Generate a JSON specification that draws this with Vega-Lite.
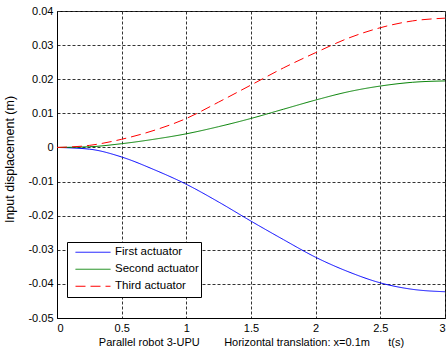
{
  "$schema": "https://vega.github.io/schema/vega-lite/v6.json",
  "width": 388,
  "height": 307,
  "autosize": {"type": "none"},
  "padding": {"left": 57, "top": 11, "right": 1, "bottom": 40},
  "background": "white",
  "config": {
    "locale": {"number": {"decimal": ".", "thousands": ",", "grouping": [3], "currency": ["$", ""], "minus": "-"}},
    "view": {"stroke": "black", "strokeWidth": 1},
    "font": "Liberation Sans",
    "axis": {
      "domainColor": "black",
      "labelColor": "black",
      "labelFont": "Liberation Sans",
      "labelFontSize": 11,
      "titleFont": "Liberation Sans",
      "titleFontWeight": "normal",
      "titleColor": "black",
      "gridColor": "#333333",
      "gridDash": [3, 2],
      "gridOpacity": 1,
      "ticks": false,
      "labelPadding": 4
    }
  },
  "data": {
    "values": [
      {"t": 0, "series": "First actuator", "v": 0},
      {"t": 0.25, "series": "First actuator", "v": -0.0005},
      {"t": 0.5, "series": "First actuator", "v": -0.0028},
      {"t": 0.75, "series": "First actuator", "v": -0.0065},
      {"t": 1, "series": "First actuator", "v": -0.0108},
      {"t": 1.25, "series": "First actuator", "v": -0.016},
      {"t": 1.5, "series": "First actuator", "v": -0.0216},
      {"t": 1.75, "series": "First actuator", "v": -0.027},
      {"t": 2, "series": "First actuator", "v": -0.0322},
      {"t": 2.25, "series": "First actuator", "v": -0.0364},
      {"t": 2.5, "series": "First actuator", "v": -0.0397},
      {"t": 2.75, "series": "First actuator", "v": -0.0416},
      {"t": 3, "series": "First actuator", "v": -0.0423},
      {"t": 0, "series": "Second actuator", "v": 0},
      {"t": 0.25, "series": "Second actuator", "v": 0.0002},
      {"t": 0.5, "series": "Second actuator", "v": 0.0011},
      {"t": 0.75, "series": "Second actuator", "v": 0.0024},
      {"t": 1, "series": "Second actuator", "v": 0.004},
      {"t": 1.25, "series": "Second actuator", "v": 0.0061},
      {"t": 1.5, "series": "Second actuator", "v": 0.0085},
      {"t": 1.75, "series": "Second actuator", "v": 0.0112},
      {"t": 2, "series": "Second actuator", "v": 0.0139},
      {"t": 2.25, "series": "Second actuator", "v": 0.0163},
      {"t": 2.5, "series": "Second actuator", "v": 0.018},
      {"t": 2.75, "series": "Second actuator", "v": 0.0191},
      {"t": 3, "series": "Second actuator", "v": 0.0195},
      {"t": 0, "series": "Third actuator", "v": 0},
      {"t": 0.25, "series": "Third actuator", "v": 0.0006},
      {"t": 0.5, "series": "Third actuator", "v": 0.0024},
      {"t": 0.75, "series": "Third actuator", "v": 0.005},
      {"t": 1, "series": "Third actuator", "v": 0.0085},
      {"t": 1.25, "series": "Third actuator", "v": 0.0133},
      {"t": 1.5, "series": "Third actuator", "v": 0.0183},
      {"t": 1.75, "series": "Third actuator", "v": 0.0233},
      {"t": 2, "series": "Third actuator", "v": 0.0278},
      {"t": 2.25, "series": "Third actuator", "v": 0.032},
      {"t": 2.5, "series": "Third actuator", "v": 0.0351},
      {"t": 2.75, "series": "Third actuator", "v": 0.0371},
      {"t": 3, "series": "Third actuator", "v": 0.0379}
    ]
  },
  "mark": {"type": "line", "strokeWidth": 1, "interpolate": "monotone"},
  "encoding": {
    "x": {
      "field": "t",
      "type": "quantitative",
      "scale": {"domain": [0, 3], "nice": false},
      "axis": {
        "values": [0, 0.5, 1, 1.5, 2, 2.5, 3],
        "format": "~g",
        "title": "Parallel robot 3-UPU\u00a0\u00a0\u00a0\u00a0\u00a0\u00a0\u00a0\u00a0Horizontal translation:\u00a0x=0.1m\u00a0\u00a0\u00a0\u00a0\u00a0\u00a0t(s)",
        "titleFontSize": 11,
        "titlePadding": 3
      }
    },
    "y": {
      "field": "v",
      "type": "quantitative",
      "scale": {"domain": [-0.05, 0.04], "nice": false},
      "axis": {
        "values": [-0.05, -0.04, -0.03, -0.02, -0.01, 0, 0.01, 0.02, 0.03, 0.04],
        "format": "~g",
        "title": "Input displacement (m)",
        "titleFontSize": 12.5,
        "titlePadding": 11,
        "titleY": 148
      }
    },
    "color": {
      "field": "series",
      "type": "nominal",
      "scale": {"domain": ["First actuator", "Second actuator", "Third actuator"], "range": ["#0000ff", "#008000", "#ff0000"]},
      "legend": {"orient": "none", "legendX": 10, "legendY": 231, "title": null, "strokeColor": "black", "fillColor": "white", "padding": 2, "symbolType": "stroke", "symbolSize": 1225, "symbolStrokeWidth": 1, "clipHeight": 16.5, "rowPadding": 0, "labelFontSize": 11.5, "labelFont": "Liberation Sans", "labelColor": "black", "symbolOffset": 6, "labelOffset": 4, "cornerRadius": 0}
    },
    "strokeDash": {
      "field": "series",
      "type": "nominal",
      "scale": {"domain": ["First actuator", "Second actuator", "Third actuator"], "range": [[1, 0], [1, 0], [10, 5]]},
      "legend": {"orient": "none", "legendX": 10, "legendY": 231, "title": null, "strokeColor": "black", "fillColor": "white", "padding": 2, "symbolType": "stroke", "symbolSize": 1225, "symbolStrokeWidth": 1, "clipHeight": 16.5, "rowPadding": 0, "labelFontSize": 11.5, "labelFont": "Liberation Sans", "labelColor": "black", "symbolOffset": 6, "labelOffset": 4, "cornerRadius": 0}
    }
  }
}
